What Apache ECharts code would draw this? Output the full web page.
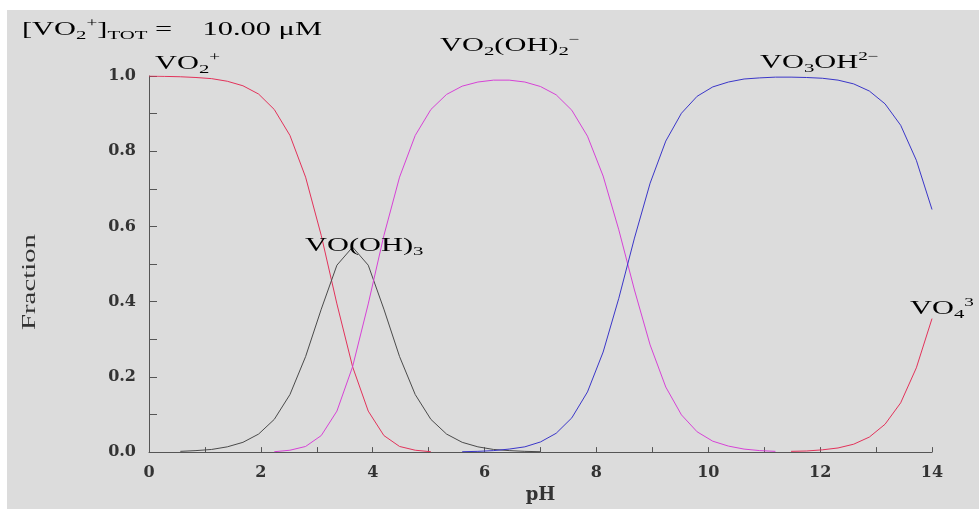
<!DOCTYPE html>
<html>
<head>
<meta charset="utf-8">
<title>Vanadium(V) speciation</title>
<script src="https://cdn.jsdelivr.net/npm/echarts@6/dist/echarts.min.js"></script>
<style>
    html, body { margin: 0; padding: 0; background: #fff; }
    #chart { width: 979px; height: 509px; }
</style>
</head>
<body>
<div id="chart"></div>
<script>
// pH grid of the curves (51 points, step 0.28)
const ph = [0, 0.28, 0.56, 0.84, 1.12, 1.40, 1.68, 1.96, 2.24, 2.52, 2.80, 3.08, 3.36, 3.64, 3.92,
    4.20, 4.48, 4.76, 5.04, 5.32, 5.60, 5.88, 6.16, 6.44, 6.72, 7.00, 7.28, 7.56, 7.84, 8.12,
    8.40, 8.68, 8.96, 9.24, 9.52, 9.80, 10.08, 10.36, 10.64, 10.92, 11.20, 11.48, 11.76, 12.04,
    12.32, 12.60, 12.88, 13.16, 13.44, 13.72, 14.00];

// fractions, null = lying on the axis
const vo2 = [1.000, 0.999, 0.998, 0.996, 0.993, 0.986, 0.974, 0.952, 0.911, 0.842, 0.731, 0.576, 0.394, 0.227, 0.109,
    0.044, 0.015, 0.005, 0.001, null, null, null, null, null, null, null, null, null, null, null,
    null, null, null, null, null, null, null, null, null, null, null, null, null, null,
    null, null, null, null, null, null, null];
const voOH3 = [null, null, 0.002, 0.004, 0.007, 0.014, 0.026, 0.048, 0.087, 0.153, 0.254, 0.380, 0.497, 0.545, 0.497,
    0.380, 0.254, 0.153, 0.087, 0.048, 0.026, 0.014, 0.007, 0.004, 0.002, 0.001, null, null, null, null,
    null, null, null, null, null, null, null, null, null, null, null, null, null, null,
    null, null, null, null, null, null, null];
const vo2OH2 = [null, null, null, null, null, null, null, null, 0.001, 0.005, 0.015, 0.044, 0.109, 0.227, 0.394,
    0.576, 0.731, 0.842, 0.911, 0.951, 0.973, 0.984, 0.989, 0.989, 0.984, 0.972, 0.950, 0.909, 0.840, 0.734,
    0.591, 0.431, 0.285, 0.173, 0.099, 0.054, 0.029, 0.016, 0.008, 0.004, 0.002, null, null, null,
    null, null, null, null, null, null, null];
const vo3OH = [null, null, null, null, null, null, null, null, null, null, null, null, null, null, null,
    null, null, null, null, null, 0.001, 0.002, 0.004, 0.008, 0.014, 0.027, 0.050, 0.091, 0.160, 0.266,
    0.409, 0.569, 0.715, 0.827, 0.901, 0.946, 0.971, 0.984, 0.992, 0.995, 0.997, 0.997, 0.996, 0.994,
    0.989, 0.979, 0.960, 0.926, 0.869, 0.776, 0.645];
const vo4 = [null, null, null, null, null, null, null, null, null, null, null, null, null, null, null,
    null, null, null, null, null, null, null, null, null, null, null, null, null, null, null,
    null, null, null, null, null, null, null, null, null, null, null, 0.002, 0.003, 0.006,
    0.011, 0.021, 0.040, 0.074, 0.131, 0.224, 0.355];

const serif = '"Liberation Serif", "DejaVu Serif", serif';
const wideSerif = '"DejaVu Serif", "Liberation Serif", serif';
const stretch = 1.6;   // the old plot has wide, stretched lettering

const RED = '#e2325a';
const MAGENTA = '#d642d6';
const BLUE = '#3a36c8';
const DARK = '#4a4a4a';

function pairs(values) {
    return values.map((v, i) => [ph[i], v]);
}

function richFor(color) {
    return {
        n: { fontFamily: serif, fontSize: 19, color: color, lineHeight: 24 },
        sub: { fontFamily: serif, fontSize: 13, color: color, verticalAlign: 'bottom', lineHeight: 24, padding: [7, 0, 0, 0] },
        sup: { fontFamily: serif, fontSize: 12, color: color, verticalAlign: 'top', lineHeight: 24, padding: [0, 0, 8, 0] }
    };
}

function label(x, y, text, color) {
    return {
        type: 'text',
        x: x,
        y: y,
        scaleX: stretch,
        z: 50,
        style: { text: text, rich: richFor(color), align: 'left', verticalAlign: 'top' }
    };
}

const chart = echarts.init(document.getElementById('chart'));

const option = {
    backgroundColor: '#ffffff',
    animation: false,
    grid: { left: 149, right: 47, top: 76, bottom: 56 },
    xAxis: {
        type: 'value',
        min: 0,
        max: 14,
        interval: 1,
        name: 'pH',
        nameLocation: 'middle',
        nameGap: 30,
        nameTextStyle: { fontFamily: wideSerif, fontSize: 18, fontWeight: 'bold', color: '#333' },
        axisLine: { lineStyle: { color: '#555', width: 1 } },
        axisTick: { inside: true, length: 5, lineStyle: { color: '#555' } },
        splitLine: { show: false },
        axisLabel: {
            margin: 13,
            fontFamily: wideSerif,
            fontSize: 16,
            fontWeight: 'bold',
            color: '#333',
            formatter: v => (Math.round(v) % 2 === 0 ? String(Math.round(v)) : '')
        }
    },
    yAxis: {
        type: 'value',
        min: 0,
        max: 1,
        interval: 0.1,
        axisLine: { show: true, lineStyle: { color: '#555', width: 1 } },
        axisTick: { show: true, inside: true, length: 8, lineStyle: { color: '#555' } },
        splitLine: { show: false },
        axisLabel: {
            margin: 13,
            fontFamily: wideSerif,
            fontSize: 16,
            fontWeight: 'bold',
            color: '#333',
            formatter: v => {
                let k = Math.round(v * 10);
                return k % 2 === 0 ? (k / 10).toFixed(1) : '';
            }
        }
    },
    series: [
        { name: 'VO2+', data: pairs(vo2), color: RED },
        { name: 'VO(OH)3', data: pairs(voOH3), color: DARK },
        { name: 'VO2(OH)2-', data: pairs(vo2OH2), color: MAGENTA },
        { name: 'VO3OH2-', data: pairs(vo3OH), color: BLUE },
        { name: 'VO43-', data: pairs(vo4), color: RED }
    ].map(s => ({
        type: 'line',
        name: s.name,
        data: s.data,
        symbol: 'none',
        connectNulls: false,
        lineStyle: { color: s.color, width: 1 },
        itemStyle: { color: s.color },
        z: 3
    })),
    graphic: [
        {
            type: 'rect',
            z: -10,
            shape: { x: 7, y: 10, width: 972, height: 499 },
            style: { fill: '#dcdcdc' }
        },
        // y axis title, drawn by hand so it can be stretched like the rest
        {
            type: 'text',
            x: 30,
            y: 282,
            rotation: Math.PI / 2,
            scaleX: stretch,
            z: 50,
            style: {
                text: 'Fraction',
                fontFamily: serif,
                fontSize: 18,
                fill: '#333',
                align: 'center',
                verticalAlign: 'middle'
            }
        },
        label(22, 18, '{n|[VO}{sub|2}{sup|+}{n|]}{sub|TOT}{n| =    10.00 \u03bcM}', '#222'),
        label(155, 52, '{n|VO}{sub|2}{sup|+}', RED),
        label(440, 34, '{n|VO}{sub|2}{n|(OH)}{sub|2}{sup|\u2212}', MAGENTA),
        label(760, 51, '{n|VO}{sub|3}{n|OH}{sup|2\u2212}', BLUE),
        label(305, 234, '{n|VO(OH)}{sub|3}', '#333'),
        label(910, 297, '{n|VO}{sub|4}{sup|3}', RED)
    ]
};

chart.setOption(option);
</script>
</body>
</html>
